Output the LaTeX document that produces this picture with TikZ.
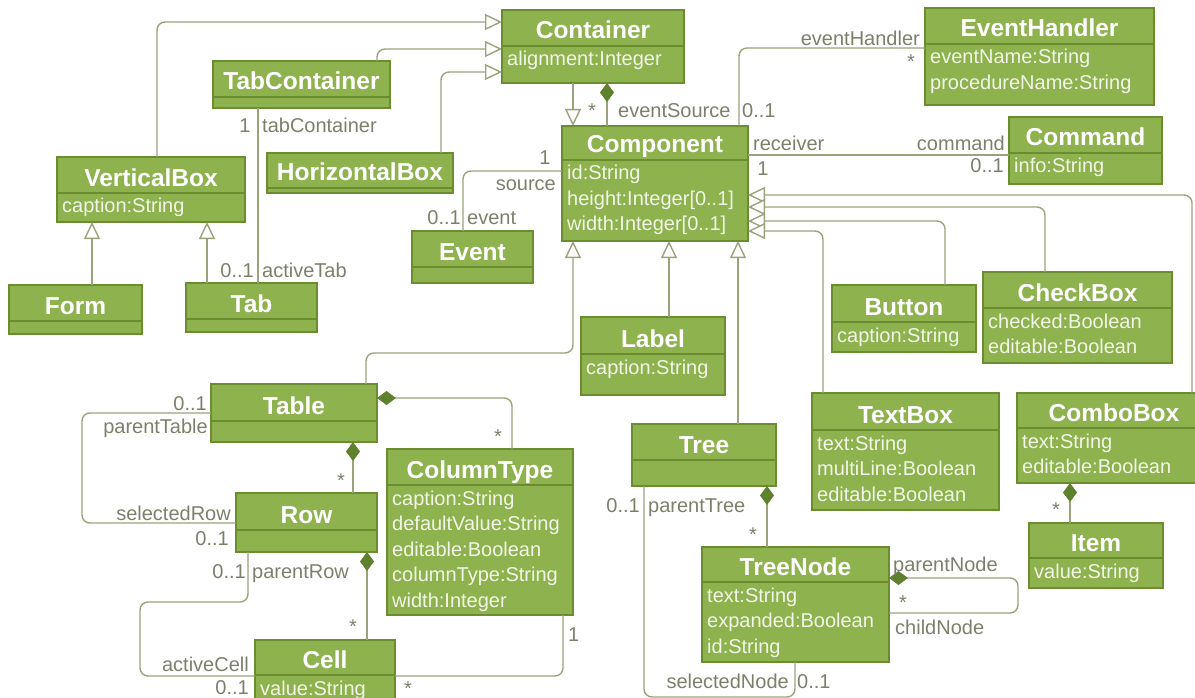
\documentclass[tikz,border=0pt]{standalone}
\usepackage{fontspec}
\setmainfont{Liberation Sans}
\usetikzlibrary{arrows.meta}

\definecolor{boxfill}{HTML}{8DB24E}
\definecolor{boxline}{HTML}{6C8C30}
\definecolor{wire}{HTML}{9AA37C}
\definecolor{lbltext}{HTML}{7C7F6C}
\definecolor{dkgreen}{HTML}{5F802D}
\definecolor{attrtext}{HTML}{F2F6E8}

\newcommand\namefont{\fontsize{24.5}{28}\selectfont\bfseries}
\newcommand\attrfont{\fontsize{20}{25.5}\selectfont}
\newcommand\lblfont{\fontsize{20}{24}\selectfont}

% UML class: id, x1, y1, x2, y2, y of name/attribute divider, title, attribute lines
\newcommand{\umlclass}[8]{%
  \node[classbox, minimum width={#4-#2}, minimum height={#5-#3}] (#1) at ({(#2+#4)/2},{(#3+#5)/2}) {};
  \draw[divider] (#2,#6) -- (#4,#6);
  \node[classname] (#1-name) at ({(#2+#4)/2},#6-7) {#7};
  \node[classattr] (#1-attr) at (#2+5,#6+20) {\begin{tabular}[t]{@{}l@{}}#8\end{tabular}};
}

\begin{document}
\begin{tikzpicture}[x=1pt,y=-1pt,
  classbox/.style={draw=boxline, fill=boxfill, line width=2.5pt, rectangle, inner sep=0pt, outer sep=0pt},
  divider/.style={draw=boxline, line width=2.5pt},
  classname/.style={anchor=base, font=\namefont, text=white, inner sep=0pt},
  classattr/.style={anchor=base west, font=\attrfont, text=attrtext, inner sep=0pt},
  conn/.style={draw=wire, line width=1.4pt},
  gen/.style={-{Triangle[length=17pt,width=16pt,fill=white]}},
  comp/.style={{Diamond[length=19pt,width=14pt,color=dkgreen]}-},
  rc/.style={rounded corners=8pt},
  lbl/.style={font=\lblfont, text=lbltext, inner sep=0pt}]

\useasboundingbox (0,0) rectangle (1195,698);
\clip (0,0) rectangle (1195,698);

% ---------- classes ----------
\umlclass{container}{502}{10}{684}{83}{46}{Container}{alignment:Integer}
\umlclass{component}{562}{126}{748}{241}{160}{Component}{id:String\\height:Integer[0..1]\\width:Integer[0..1]}
\umlclass{evhandler}{925}{8}{1154}{105}{44}{EventHandler}{eventName:String\\procedureName:String}
\umlclass{command}{1009}{117}{1162}{184}{153}{Command}{info:String}
\umlclass{tabcont}{213}{61}{390}{108}{97}{TabContainer}{}
\umlclass{vbox}{57}{157}{245}{222}{193}{VerticalBox}{caption:String}
\umlclass{hbox}{267}{153}{453}{193}{188}{HorizontalBox}{}
\umlclass{event}{412}{231}{533}{283}{267}{Event}{}
\umlclass{form}{9}{285}{142}{334}{321}{Form}{}
\umlclass{tab}{186}{283}{317}{332}{319}{Tab}{}
\umlclass{labelc}{581}{317}{725}{395}{354}{Label}{caption:String}
\umlclass{tree}{632}{424}{776}{486}{460}{Tree}{}
\umlclass{button}{832}{285}{976}{352}{322}{Button}{caption:String}
\umlclass{checkbox}{983}{272}{1172}{363}{308}{CheckBox}{checked:Boolean\\editable:Boolean}
\umlclass{textbox}{812}{393}{999}{510}{430}{TextBox}{text:String\\multiLine:Boolean\\editable:Boolean}
\umlclass{combobox}{1017}{393}{1211}{483}{428}{ComboBox}{text:String\\editable:Boolean}
\umlclass{item}{1029}{523}{1163}{588}{558}{Item}{value:String}
\umlclass{treenode}{702}{547}{889}{662}{582}{TreeNode}{text:String\\expanded:Boolean\\id:String}
\umlclass{table}{211}{384}{377}{442}{421}{Table}{}
\umlclass{row}{236}{493}{377}{552}{530}{Row}{}
\umlclass{coltype}{387}{449}{573}{615}{485}{ColumnType}{caption:String\\defaultValue:String\\editable:Boolean\\columnType:String\\width:Integer}
\umlclass{cell}{255}{640}{395}{720}{675}{Cell}{value:String}

% ---------- generalizations ----------
\draw[conn,gen,rc] ([xshift=100]vbox.north west) |- ([yshift=-12]container.north west);
\draw[conn,gen,rc] ([xshift=164]tabcont.north west) |- ([yshift=-39]container.north west);
\draw[conn,gen,rc] ([xshift=174]hbox.north west) |- ([yshift=-62]container.north west);
\draw[conn,gen] ([xshift=71]container.south west) -- ([xshift=11]component.north west);
\draw[conn,gen] ([xshift=83]form.north west) -- ([xshift=35]vbox.south west);
\draw[conn,gen] ([xshift=21]tab.north west) -- ([xshift=150]vbox.south west);
\draw[conn,gen,rc] ([xshift=155]table.north west) |- ([xshift=11,yshift=-112]component.south west) -- ([xshift=11]component.south west);
\draw[conn,gen] ([xshift=88]labelc.north west) -- ([xshift=107]component.south west);
\draw[conn,gen] ([xshift=106]tree.north west) -- ([xshift=176]component.south west);
\draw[conn,gen,rc] ([xshift=175]combobox.north west) |- ([yshift=46]component.south east);
\draw[conn,gen,rc] ([xshift=62]checkbox.north west) |- ([yshift=34]component.south east);
\draw[conn,gen,rc] ([xshift=113]button.north west) |- ([yshift=20]component.south east);
\draw[conn,gen,rc] ([xshift=11]textbox.north west) |- ([yshift=10]component.south east);

% ---------- compositions ----------
\draw[conn,comp] ([xshift=105]container.south west) -- ([xshift=45]component.north west);
\draw[conn,comp] ([xshift=142]table.south west) -- ([xshift=117]row.north west);
\draw[conn,comp,rc] ([yshift=-14]table.north east) -| ([xshift=125]coltype.north west);
\draw[conn,comp] ([xshift=131]row.south west) -- ([xshift=112]cell.north west);
\draw[conn,comp] ([xshift=135]tree.south west) -- ([xshift=65]treenode.north west);
\draw[conn,comp,rc] ([yshift=-31]treenode.north east) -- ++(129,0) |- ([yshift=-66]treenode.north east);
\draw[conn,comp] ([xshift=53]combobox.south west) -- ([xshift=41]item.north west);

% ---------- associations ----------
\draw[conn,rc] ([xshift=177]component.north west) |- ([yshift=-40]evhandler.north west);
\draw[conn] ([yshift=-29]component.north east) -- ([yshift=-38]command.north west);
\draw[conn,rc] ([yshift=-45]component.north west) -| ([xshift=51]event.north west);
\draw[conn] ([xshift=45]tabcont.south west) -- ([xshift=72]tab.north west);
\draw[conn,rc] ([yshift=-29]table.north west) -- ++(-129,0) |- ([yshift=-30]row.north west);
\draw[conn,rc] ([xshift=12]row.south west) -- ++(0,50) -- ++(-108,0) |- ([yshift=-36]cell.north west);
\draw[conn,rc] ([xshift=176]coltype.south west) |- ([yshift=-36]cell.north east);
\draw[conn,rc] ([xshift=12]tree.south west) -- ++(0,211) -| ([xshift=93]treenode.south west);

% ---------- role names and multiplicities ----------
\node[lbl,anchor=base] (m1) at (592,118) {*};
\node[lbl,anchor=base west] (r1) at (618,118) {eventSource};
\node[lbl,anchor=base west] (m2) at (742,118) {0..1};
\node[lbl,anchor=base east] (r2) at (920,46) {eventHandler};
\node[lbl,anchor=base] (m3) at (911,69) {*};
\node[lbl,anchor=base west] (r3) at (753,151) {receiver};
\node[lbl,anchor=base] (m4) at (763,176) {1};
\node[lbl,anchor=base east] (r4) at (1005,151) {command};
\node[lbl,anchor=base east] (m5) at (1004,173) {0..1};
\node[lbl,anchor=base] (m6) at (545,165) {1};
\node[lbl,anchor=base east] (r5) at (556,191) {source};
\node[lbl,anchor=base east] (m7) at (461,225) {0..1};
\node[lbl,anchor=base west] (r6) at (467,225) {event};
\node[lbl,anchor=base] (m8) at (245,133) {1};
\node[lbl,anchor=base west] (r7) at (262,133) {tabContainer};
\node[lbl,anchor=base east] (m9) at (254,277) {0..1};
\node[lbl,anchor=base west] (r8) at (262,277) {activeTab};
\node[lbl,anchor=base east] (m10) at (207,410) {0..1};
\node[lbl,anchor=base east] (r9) at (208,433) {parentTable};
\node[lbl,anchor=base east] (r10) at (231,520) {selectedRow};
\node[lbl,anchor=base east] (m11) at (229,545) {0..1};
\node[lbl,anchor=base] (m12) at (341,487) {*};
\node[lbl,anchor=base] (m13) at (498,443) {*};
\node[lbl,anchor=base] (m14) at (353,633) {*};
\node[lbl,anchor=base east] (m15) at (246,578) {0..1};
\node[lbl,anchor=base west] (r11) at (252,578) {parentRow};
\node[lbl,anchor=base east] (r12) at (249,671) {activeCell};
\node[lbl,anchor=base east] (m16) at (249,694) {0..1};
\node[lbl,anchor=base west] (m17) at (568,641) {1};
\node[lbl,anchor=base] (m18) at (408,695) {*};
\node[lbl,anchor=base] (m19) at (753,541) {*};
\node[lbl,anchor=base east] (m20) at (640,512) {0..1};
\node[lbl,anchor=base west] (r13) at (648,512) {parentTree};
\node[lbl,anchor=base east] (r14) at (789,688) {selectedNode};
\node[lbl,anchor=base west] (m21) at (797,688) {0..1};
\node[lbl,anchor=base west] (r15) at (893,571) {parentNode};
\node[lbl,anchor=base] (m22) at (903,609) {*};
\node[lbl,anchor=base west] (r16) at (895,634) {childNode};
\node[lbl,anchor=base] (m23) at (1056,516) {*};

\end{tikzpicture}
\end{document}
